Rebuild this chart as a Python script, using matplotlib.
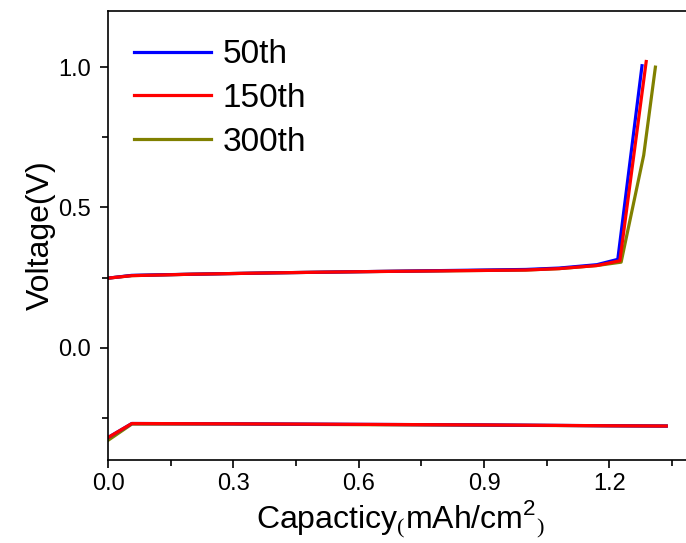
import matplotlib.pyplot as plt

plt.rcParams['font.family'] = ['Liberation Sans', 'DejaVu Sans']
plt.rcParams['mathtext.fontset'] = 'custom'
plt.rcParams['mathtext.rm'] = 'Liberation Serif'
plt.rcParams['mathtext.sf'] = 'Liberation Sans'

labels = ['50th', '150th', '300th']
colors = ['#0000ff', '#ff0000', '#808000']

# discharge (upper) branch
dis_x_50 = [0, 0.057, 0.2, 0.4, 0.6, 0.8, 1.0, 1.08, 1.17, 1.22, 1.278]
dis_y_50 = [0.248, 0.258, 0.262, 0.267, 0.271, 0.275, 0.279, 0.284, 0.296, 0.315, 1.005]
dis_x_150 = [0, 0.057, 0.2, 0.4, 0.6, 0.8, 1.0, 1.08, 1.17, 1.225, 1.288]
dis_y_150 = [0.248, 0.257, 0.262, 0.267, 0.271, 0.274, 0.277, 0.282, 0.293, 0.31, 1.02]
dis_x_300 = [0, 0.057, 0.2, 0.4, 0.6, 0.8, 1.0, 1.08, 1.17, 1.228, 1.282, 1.31]
dis_y_300 = [0.248, 0.257, 0.262, 0.267, 0.271, 0.274, 0.277, 0.282, 0.293, 0.305, 0.686, 1.0]

# charge (lower) branch
chg_x = [0, 0.057, 0.3, 0.6, 0.9, 1.2, 1.336]
chg_y_50 = [-0.32, -0.27, -0.271, -0.273, -0.275, -0.278, -0.279]
chg_y_150 = [-0.32, -0.27, -0.271, -0.273, -0.275, -0.278, -0.279]
chg_y_300 = [-0.33, -0.272, -0.272, -0.274, -0.276, -0.278, -0.279]

fig = plt.figure(figsize=(6.86, 5.43), dpi=100)
ax = fig.add_axes([108 / 686, 83 / 543, 585 / 686, 449 / 543])

lw = 2.3
ax.plot(dis_x_300, dis_y_300, color=colors[2], lw=lw, label=labels[2])
ax.plot(chg_x, chg_y_300, color=colors[2], lw=lw)
ax.plot(dis_x_50, dis_y_50, color=colors[0], lw=lw, label=labels[0])
ax.plot(chg_x, chg_y_50, color=colors[0], lw=lw)
ax.plot(dis_x_150, dis_y_150, color=colors[1], lw=lw, label=labels[1])
ax.plot(chg_x, chg_y_150, color=colors[1], lw=lw)

ax.set_xlim(0, 1.4)
ax.set_ylim(-0.4, 1.2)
ax.set_xticks([0, 0.3, 0.6, 0.9, 1.2])
ax.set_xticklabels(['0.0', '0.3', '0.6', '0.9', '1.2'])
ax.set_xticks([0.15, 0.45, 0.75, 1.05, 1.35], minor=True)
ax.set_yticks([0, 0.5, 1.0])
ax.set_yticklabels(['0.0', '0.5', '1.0'])
ax.set_yticks([-0.25, 0.25, 0.75], minor=True)
ax.tick_params(which='major', direction='out', length=6, width=1.2, labelsize=17)
ax.tick_params(axis='y', which='major', pad=6)
ax.tick_params(which='minor', direction='out', length=4, width=1.2)
for s in ax.spines.values():
    s.set_linewidth(1.2)

ax.set_xlabel(r'Capacticy$_\mathrm{(}$mAh/cm$^\mathsf{2}$$_\mathrm{)}$', fontsize=23, labelpad=2)
ax.set_ylabel('Voltage(V)', fontsize=23, labelpad=2)

h, l = ax.get_legend_handles_labels()
order = [1, 2, 0]
ax.legend([h[i] for i in order], [l[i] for i in order], loc='upper left',
          bbox_to_anchor=(-0.006, 1.004), frameon=False, fontsize=24,
          handlelength=2.3, handletextpad=0.35, labelspacing=0.38)

fig.savefig('out.png', dpi=100)
